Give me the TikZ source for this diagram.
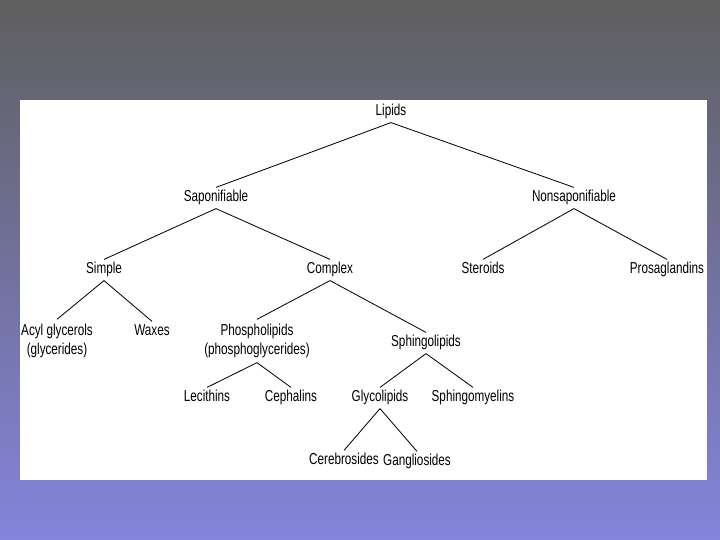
\documentclass[tikz,border=0pt]{standalone}
\usepackage{fontspec}
\setmainfont{Liberation Sans}[FakeStretch=0.74]
\usetikzlibrary{positioning}
\definecolor{slidetop}{HTML}{5F5F5F}
\definecolor{slidebottom}{HTML}{8484DC}

\begin{document}
\begin{tikzpicture}[x=0.03cm,y=-0.03cm,
  every node/.style={font=\fontsize{13.5}{16}\selectfont, inner xsep=1pt, inner ysep=4pt},
  term/.style={text height=0.75em, text depth=0.22em},
  twoline/.style={align=center},
  branch/.style={line width=0.7pt}]

\newcommand{\slidew}{720}
\newcommand{\slideh}{540}

% slide background and white sheet
\shade[top color=slidetop,bottom color=slidebottom] (0,0) rectangle (\slidew,\slideh);
\fill[white] (20,100) rectangle (707,480);
\useasboundingbox (0,0) rectangle (\slidew,\slideh);

% levels of the tree
\node[term] (lipids)    at (391,112) {Lipids};

\node[term] (sapon)     at (216,198) {Saponifiable};
\node[term] (nonsapon)  at (574,198) {Nonsaponifiable};

\node[term] (simple)    at (104,270) {Simple};
\node[term] (complex)   at (330,270) {Complex};
\node[term] (steroids)  at (483,270) {Steroids};
\node[term] (prosta)    at (667,270) {Prosaglandins};

\node[twoline] (acyl)   at (57,341)  {Acyl glycerols\\(glycerides)};
\node[term] (waxes)     at (152,332) {Waxes};
\node[twoline] (phospho) at (257,341) {Phospholipids\\(phosphoglycerides)};
\node[term] (sphingo)   at (426,343) {Sphingolipids};

\node[term] (lecithins) at (207,398) {Lecithins};
\node[term] (cephalins) at (291,398) {Cephalins};
\node[term] (glyco)     at (380,398) {Glycolipids};
\node[term] (sphmyelin) at (473,398) {Sphingomyelins};

\node[term] (cerebro)   at (344,461) {Cerebrosides};
\node[term] (gangli)    at (417,462) {Gangliosides};

% branches
\foreach \up/\down in {lipids/sapon, lipids/nonsapon,
    sapon/simple, sapon/complex, nonsapon/steroids, nonsapon/prosta,
    simple/acyl, simple/waxes, complex/phospho, complex/sphingo,
    phospho/lecithins, phospho/cephalins, sphingo/glyco, sphingo/sphmyelin,
    glyco/cerebro, glyco/gangli}
  \draw[branch] (\up.south) -- (\down.north);

\end{tikzpicture}
\end{document}
